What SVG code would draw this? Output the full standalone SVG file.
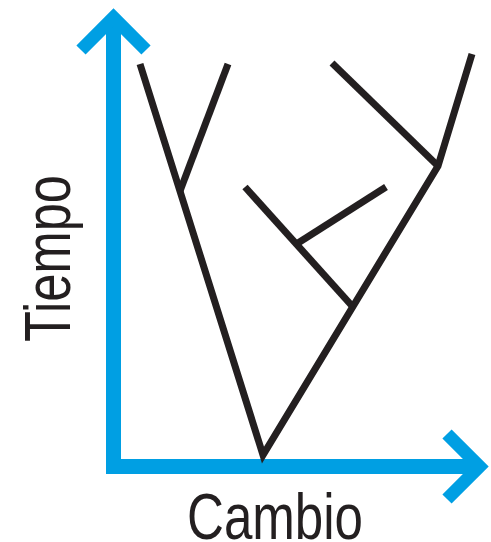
<svg xmlns="http://www.w3.org/2000/svg" width="491" height="542" viewBox="0 0 491 542">
<style>
.axis{fill:none;stroke:#009FE3;stroke-width:15;stroke-linecap:butt;stroke-linejoin:miter}
.head{fill:none;stroke:#009FE3;stroke-width:13;stroke-linecap:butt;stroke-linejoin:miter}
.tree{fill:none;stroke:#231F20;stroke-width:7;stroke-linecap:butt;stroke-linejoin:miter}
.lbl{font-family:"Liberation Sans",Arial,sans-serif;font-size:65px;fill:#231F20}
</style>
<rect width="491" height="542" fill="#fff"/>
<g id="axes">
<polyline class="axis" points="113.5,18 113.5,466.5 479,466.5"/>
<polyline class="head" points="81,50 113.5,17.5 146,50"/>
<polyline class="head" points="447,434 479.5,466.5 447,499"/>
</g>
<g id="tree">
<polyline class="tree" points="140,64 263,455 438,166 472,54"/>
<line class="tree" x1="180" y1="191" x2="228" y2="64"/>
<line class="tree" x1="438" y1="166" x2="332" y2="63"/>
<line class="tree" x1="353" y1="307" x2="245" y2="187"/>
<line class="tree" x1="298" y1="243" x2="386" y2="187"/>
</g>
<g id="labels">
<text class="lbl" x="187" y="539" textLength="176" lengthAdjust="spacingAndGlyphs">Cambio</text>
<text class="lbl" transform="translate(70,342) rotate(-90)" x="0" y="0" textLength="167" lengthAdjust="spacingAndGlyphs">Tiempo</text>
</g>
</svg>
